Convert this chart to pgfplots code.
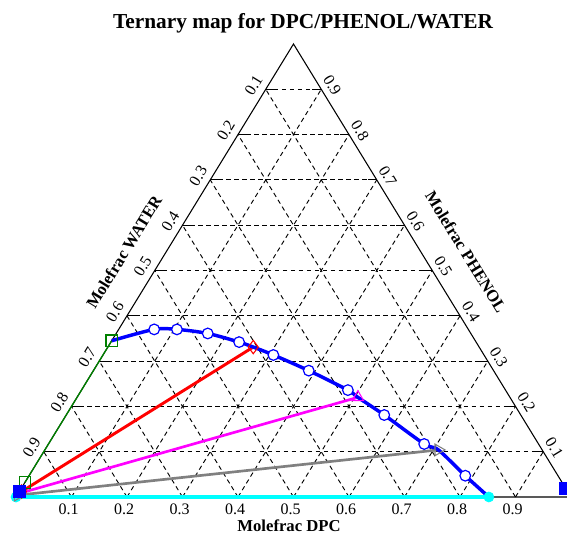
\documentclass[border=0pt]{standalone}
\usepackage{pgfplots}
\pgfplotsset{compat=1.18}
\usepackage{pgfplotstable}
\usepackage{fontspec}
\setmainfont{Liberation Serif}

\definecolor{tgreen}{RGB}{0,128,0}
\definecolor{tgray}{RGB}{128,128,128}
\definecolor{tcyan}{RGB}{0,255,255}
\definecolor{tmag}{RGB}{255,0,255}
\definecolor{tblue}{RGB}{0,0,255}
\definecolor{tred}{RGB}{255,0,0}

% compositions: D = molefrac DPC, P = molefrac PHENOL (WATER = 1-D-P)
\pgfplotstableread{
D P
0.000 0.345
0.064 0.370
0.105 0.370
0.165 0.361
0.231 0.342
0.262 0.331
0.307 0.3135
0.388 0.279
0.480 0.236
0.506 0.220
0.573 0.181
0.677 0.117
0.709 0.104
0.786 0.047
0.852 0.000
}\binodal

\pgfplotstableread{
D P
0.064 0.370
0.105 0.370
0.165 0.361
0.231 0.342
0.307 0.3135
0.388 0.279
0.480 0.236
0.573 0.181
0.677 0.117
0.786 0.047
}\circles

% tie lines: water-rich end to organic end
\pgfplotstableread{
D P
0.000 0.032
0.000 0.345
}\tieA
\pgfplotstableread{
D P
0.004 0.012
0.262 0.331
}\tieB
\pgfplotstableread{
D P
0.002 0.008
0.506 0.220
}\tieC
\pgfplotstableread{
D P
0.001 0.004
0.709 0.104
}\tieD
\pgfplotstableread{
D P
0.000 0.000
0.852 0.000
}\tieE

\tikzset{
  grid/.style={black, line width=0.7pt, dash pattern=on 3.4pt off 2.6pt},
  tk/.style={black, line width=0.8pt},
}

\begin{document}
\begin{tikzpicture}
% triangular grid (units: 1 = full edge / full height)
\begin{scope}[x=416.25pt, y=339.75pt]
  \foreach \k in {1,...,9}{
    \draw[grid] ({\k/20},{\k/10}) -- ({1-\k/20},{\k/10});
    \draw[grid] ({\k/10},0) -- ({\k/10+(1-\k/10)/2},{1-\k/10});
    \draw[grid] ({\k/10},0) -- ({\k/20},{\k/10});
    \draw[tk] ({\k/20},{\k/10}) -- ++(0.016,0);
    \draw[tk] ({1-\k/20},{\k/10}) -- ++(-0.016,0);
  }
  \draw[line width=0.8pt] (0,0) -- (1,0) -- (0.5,1) -- cycle;
\end{scope}

\begin{axis}[
  anchor=origin, at={(0,0)},
  x=416.25pt, y=339.75pt,
  xmin=0, xmax=1, ymin=0, ymax=1,
  hide axis, clip=false,
  table/x expr=\thisrow{D}+0.5*\thisrow{P},
  table/y expr=\thisrow{P},
]
% tie lines
\addplot[tgreen, line width=1pt] table {\tieA};
\addplot[tred, line width=2.2pt] table {\tieB};
\addplot[tmag, line width=2pt] table {\tieC};
\addplot[tgray, line width=2pt] table {\tieD};
\addplot[tcyan, line width=2.5pt] table {\tieE};
% binodal
\addplot[tblue, line width=2.6pt, smooth, tension=0.5] table {\binodal};
\addplot[only marks, mark=*, mark size=4pt,
  mark options={draw=tblue, fill=white, line width=0.9pt}] table {\circles};
% tie line ends
\addplot[only marks, tcyan, mark=*, mark size=3.8pt] table {\tieE};
\addplot[only marks, tgray, mark=triangle, mark size=5pt,
  mark options={fill=white, line width=0.8pt, rotate=-90}] table {\tieD};
\addplot[only marks, tmag, mark=triangle, mark size=5pt,
  mark options={fill=white, line width=0.8pt}] table {\tieC};
\addplot[only marks, tred, mark=diamond, mark size=5pt,
  mark options={fill=white, line width=0.8pt}] table {\tieB};
\addplot[only marks, tgreen, mark=square, mark size=4.3pt,
  mark options={fill=white, line width=0.9pt}] table {\tieA};
% corner points
\addplot[only marks, tblue, mark=square*, mark size=4.6pt] table {
D P
0.000 0.0126
0.980 0.020
};
\end{axis}

% labels, in pixel units of the reference
\begin{scope}[x=0.75pt, y=-0.75pt, shift={(-16,-497)}]
  \node[font=\fontsize{16}{19}\selectfont\bfseries] at (303,23) {Ternary map for DPC/PHENOL/WATER};
  \foreach \k in {1,...,9}{
    \node[font=\fontsize{12}{14}\selectfont] at ({16+55.5*\k-3},509.5) {0.\k};
    \node[font=\fontsize{12}{14}\selectfont, rotate=58.5]
      at ({16+277.5*(10-\k)/10-12},{497-453*(10-\k)/10-4}) {0.\k};
    \node[font=\fontsize{12}{14}\selectfont, rotate=-58.5]
      at ({16+555*(1-\k/20)+11},{497-453*\k/10-4}) {0.\k};
  }
  \node[font=\fontsize{12.5}{15}\selectfont\bfseries, rotate=58.5] at (124,252) {Molefrac WATER};
  \node[font=\fontsize{12.5}{15}\selectfont\bfseries, rotate=-58.5] at (466,252) {Molefrac PHENOL};
  \node[font=\fontsize{12.5}{15}\selectfont\bfseries] at (289,525.5) {Molefrac DPC};
\end{scope}

\pgfresetboundingbox
\path[use as bounding box] (-16*0.75pt,-43*0.75pt) rectangle (551*0.75pt,497*0.75pt);
\end{tikzpicture}
\end{document}
